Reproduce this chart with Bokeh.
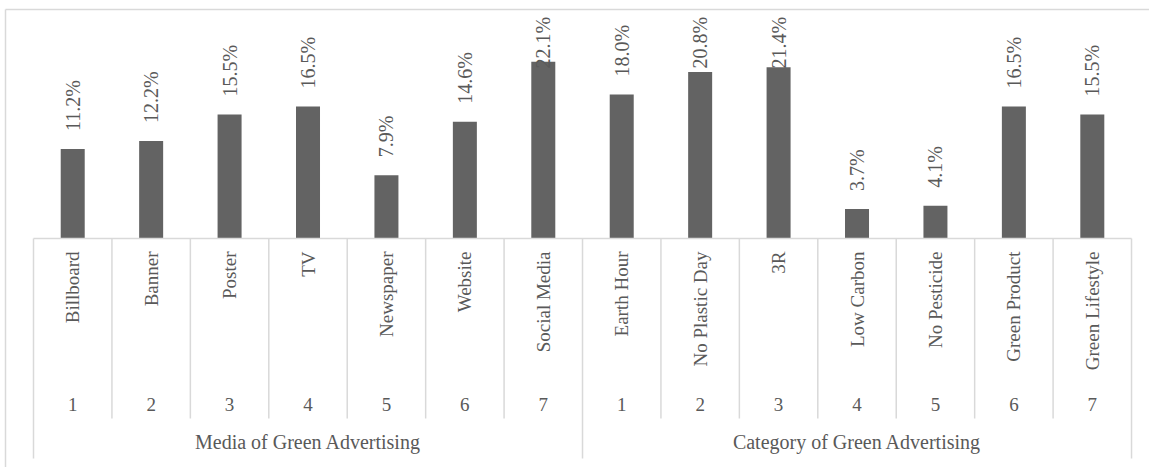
import numpy as np
from bokeh.plotting import figure
from bokeh.models import Range1d, ColumnDataSource
from bokeh.embed import file_html
from bokeh.resources import INLINE
from bokeh.core.properties import value

# ---- data ----
groups = ["Media of Green Advertising", "Category of Green Advertising"]
media_items = ["Billboard", "Banner", "Poster", "TV", "Newspaper", "Website", "Social Media"]
media_values = [11.2, 12.2, 15.5, 16.5, 7.9, 14.6, 22.1]
category_items = ["Earth Hour", "No Plastic Day", "3R", "Low Carbon", "No Pesticide",
                  "Green Product", "Green Lifestyle"]
category_values = [18.0, 20.8, 21.4, 3.7, 4.1, 16.5, 15.5]
rank_labels = ["1", "2", "3", "4", "5", "6", "7"]

# ---- layout constants ----
W, H = 1149, 467
PX_X = 78.43          # px per category
PX_Y = 8.0            # px per percent
LEFT_PAD = 33         # px from frame left to first category
BASE = 238            # px from frame top to baseline

x_start = -LEFT_PAD / PX_X
x_end = x_start + W / PX_X
y_end = BASE / PX_Y
y_start = -(H - BASE) / PX_Y

names = media_items + category_items
vals = media_values + category_values
ranks = rank_labels + rank_labels
n_media = len(media_items)
n = len(names)
xs = [i + 0.5 for i in range(n)]

FONT = value("Liberation Serif")
TXT = "#595959"
LINE = "#d9d9d9"

p = figure(width=W, height=H, output_backend="svg", toolbar_location=None,
           x_range=Range1d(x_start, x_end), y_range=Range1d(y_start, y_end),
           min_border=0, x_axis_location=None, y_axis_location=None)
p.grid.visible = False
p.outline_line_color = None
p.background_fill_color = "white"
p.border_fill_color = "white"

# outer border (top and left)
top_y = (BASE - 9) / PX_Y
left_x = (5 - LEFT_PAD) / PX_X
p.segment(x0=[left_x], x1=[x_end], y0=[top_y], y1=[top_y], line_color=LINE, line_width=1.5)
p.segment(x0=[left_x], x1=[left_x], y0=[top_y], y1=[y_start], line_color=LINE, line_width=1.5)

# bars
lab_y = [min(v + 18 / PX_Y, (BASE - 68) / PX_Y) for v in vals]
src = ColumnDataSource(dict(x=xs, v=vals, name=names, rank=ranks,
                            lab=[f"{v:.1f}%" for v in vals], lab_y=lab_y))
p.vbar(x="x", top="v", bottom=0, width=24 / PX_X, source=src,
       fill_color="#636363", line_color=None)

# value labels
p.text(x="x", y="lab_y", text="lab", source=src, angle=np.pi / 2,
       text_align="left", text_baseline="middle", text_font=FONT,
       text_font_size="20px", text_color=TXT)

# axis lines
p.segment(x0=[0], x1=[n], y0=[0], y1=[0], line_color=LINE, line_width=1.5)
bounds = list(range(n + 1))
long_b = [0, n_media, n]
short_b = [b for b in bounds if b not in long_b]
p.segment(x0=long_b, x1=long_b, y0=[0] * 3, y1=[-220 / PX_Y] * 3,
          line_color=LINE, line_width=1.5)
p.segment(x0=short_b, x1=short_b, y0=[0] * len(short_b), y1=[-180 / PX_Y] * len(short_b),
          line_color=LINE, line_width=1.5)

# category labels (rotated)
p.text(x="x", y=-13 / PX_Y, text="name", source=src, angle=np.pi / 2,
       text_align="right", text_baseline="middle", text_font=FONT,
       text_font_size="19px", text_color=TXT)

# rank numbers
p.text(x="x", y=-166 / PX_Y, text="rank", source=src,
       text_align="center", text_baseline="middle", text_font=FONT,
       text_font_size="19px", text_color=TXT)

# group labels
gx = [n_media / 2, n_media + (n - n_media) / 2]
p.text(x=gx, y=[-203 / PX_Y] * 2, text=groups,
       text_align="center", text_baseline="middle", text_font=FONT,
       text_font_size="20px", text_color=TXT)

open("out.html", "w").write(file_html(p, INLINE))
